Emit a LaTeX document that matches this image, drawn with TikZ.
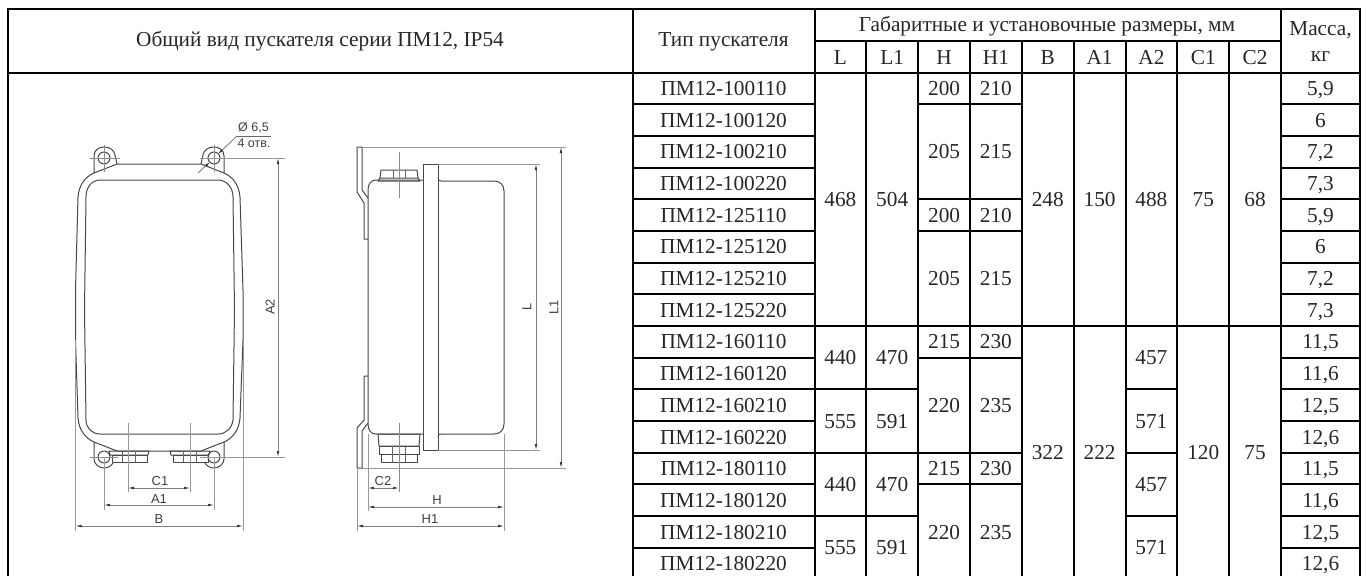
\documentclass[tikz,border=0pt]{standalone}
\usepackage{fontspec}
\setmainfont{Liberation Serif}
\newfontfamily\drawfont{Liberation Sans}
\usetikzlibrary{arrows.meta}
\newcounter{cellno}
\newcommand{\rowy}[1]{72.5+31.68*(#1)}
\newcommand{\cellat}[3]{\stepcounter{cellno}\node[tcell] (cell\arabic{cellno}) at (#1,{\rowy{#2}}) {#3};}
\tikzset{
  tcell/.style={inner sep=0pt,font=\fontsize{21.3}{21.3}\selectfont,text height=14.4pt,text depth=0pt,text=black!85},
  hcell/.style={inner sep=0pt,font=\fontsize{21.3}{21.3}\selectfont,text=black!85},
  gridline/.style={line width=2pt,black},
  outline/.style={line width=1pt,draw=black!72,line join=round},
  thinline/.style={line width=.7pt,draw=black!60},
  centerline/.style={line width=.6pt,draw=black!45},
  dimline/.style={line width=.7pt,draw=black!50,{Latex[length=6pt,width=2.6pt,black!80]}-{Latex[length=6pt,width=2.6pt,black!80]}},
  leadtip/.style={line width=.7pt,draw=black!60,-{Latex[length=5pt,width=2.6pt,black!80]}},
  extline/.style={line width=.7pt,draw=black!40},
  dimtext/.style={inner sep=0pt,font=\drawfont\fontsize{13}{13}\selectfont,text=black!75},
}
\begin{document}
\begin{tikzpicture}[x=1pt,y=-1pt]
\useasboundingbox (0,0) rectangle (1367,576);
% ---------- table grid
\foreach \yy in {9,72.5}{\draw[gridline] (7,\yy) -- (1361,\yy);}
\draw[gridline] (814.5,41) -- (1281,41);
\foreach \xx in {8,633,814.5,1281,1360}{\draw[gridline] (\xx,9) -- (\xx,576);}
\foreach \xx in {866.3,918.2,970,1021.8,1073.7,1125.5,1177.3,1229.2}{\draw[gridline] (\xx,41) -- (\xx,576);}
\foreach \i in {1,...,15}{
  \draw[gridline] (633,{\rowy{\i}}) -- (814.5,{\rowy{\i}});
  \draw[gridline] (1281,{\rowy{\i}}) -- (1360,{\rowy{\i}});
}
\draw[gridline] (814.5,{\rowy{8}}) -- (1281,{\rowy{8}});
\foreach \i in {10,12,14}{
  \draw[gridline] (814.5,{\rowy{\i}}) -- (918.2,{\rowy{\i}});
  \draw[gridline] (1125.5,{\rowy{\i}}) -- (1177.3,{\rowy{\i}});
}
\foreach \i in {1,4,5,9,12,13}{\draw[gridline] (918.2,{\rowy{\i}}) -- (1021.8,{\rowy{\i}});}
% ---------- table headers
\node[hcell] (title) at (320,41.5) {Общий вид пускателя серии ПМ12, IP54};
\node[hcell] (type) at (723.5,42) {Тип пускателя};
\node[hcell] (dims) at (1047,26) {Габаритные и установочные размеры, мм};
\foreach \xx/\tt in {840.4/L,892.2/L1,944.1/H,995.9/H1,1047.8/B,1099.6/A1,1151.4/A2,1203.3/C1,1255.1/C2}{
  \node[tcell] (head\tt) at (\xx,57) {\tt};
}
\node[hcell] (mass) at (1320.5,30) {Масса,};
\node[hcell] (kg) at (1320.5,57) {кг};
% ---------- table body
\foreach \i/\tt in {0/100110,1/100120,2/100210,3/100220,4/125110,5/125120,6/125210,7/125220,8/160110,9/160120,10/160210,11/160220,12/180110,13/180120,14/180210,15/180220}{
  \cellat{723.5}{\i+0.5}{ПМ12-\tt}
}
\foreach \i/\tt in {0/{5,9},1/6,2/{7,2},3/{7,3},4/{5,9},5/6,6/{7,2},7/{7,3},8/{11,5},9/{11,6},10/{12,5},11/{12,6},12/{11,5},13/{11,6},14/{12,5},15/{12,6}}{
  \cellat{1320.5}{\i+0.5}{\tt}
}
\foreach \r/\a/\b in {4/468/504,9/440/470,11/555/591,13/440/470,15/555/591}{
  \cellat{840.4}{\r}{\a}
  \cellat{892.2}{\r}{\b}
}
\foreach \r/\a/\b in {0.5/200/210,2.5/205/215,4.5/200/210,6.5/205/215,8.5/215/230,10.5/220/235,12.5/215/230,14.5/220/235}{
  \cellat{944.1}{\r}{\a}
  \cellat{995.9}{\r}{\b}
}
\foreach \xx/\a/\b in {1047.8/248/322,1099.6/150/222,1203.3/75/120,1255.1/68/75}{
  \cellat{\xx}{4}{\a}
  \cellat{\xx}{12}{\b}
}
\cellat{1151.4}{4}{488}
\foreach \r/\a in {9/457,11/571,13/457,15/571}{\cellat{1151.4}{\r}{\a}}
% ---------- front view
\draw[outline] (117,164) -- (201,164) -- (224,173) .. controls (233,177) and (239,185) .. (240,197) -- (243,290) -- (243,340) -- (240,418) .. controls (239,430) and (233,438) .. (224,442) -- (201,451) -- (117,451) -- (94,442) .. controls (85,438) and (79,430) .. (78,418) -- (75.5,340) -- (75.5,290) -- (78,197) .. controls (79,185) and (85,177) .. (94,173) -- cycle;
\draw[outline] (100,180) -- (218,180) .. controls (226,180) and (233,187) .. (233,197) -- (234.5,310) -- (233,420) .. controls (232,428) and (226,434) .. (218,434) -- (100,434) .. controls (92,434) and (86,428) .. (86,420) -- (84.5,310) -- (86,197) .. controls (86,187) and (92,180) .. (100,180) -- cycle;
% lugs
\draw[outline] (94,173) -- (94,156) .. controls (94,150) and (99,147) .. (104,147) .. controls (110,147) and (114,150) .. (115,155) -- (117,164);
\draw[outline] (224,173) -- (224,156) .. controls (224,150) and (219,147) .. (214,147) .. controls (208,147) and (204,150) .. (203,155) -- (201,164);
\draw[outline] (94,442) -- (94,459) .. controls (94,464) and (99,468) .. (104,468) .. controls (108,468) and (111,466) .. (113,463);
\draw[outline] (224,442) -- (224,459) .. controls (224,464) and (219,468) .. (214,468) .. controls (210,468) and (207,466) .. (205,463);
\foreach \cx/\cy in {104/158,214/158,104/457,214/457}{\draw[outline] (\cx,\cy) circle (6);}
% glands
\foreach \o in {0,61}{
  \draw[outline] (109+\o,451) -- (149+\o,451) -- (148+\o,455) -- (110+\o,455) -- cycle;
  \draw[outline] (112+\o,455) rectangle (147+\o,462);
  \draw[thinline] (122+\o,451) -- (122+\o,462) (135+\o,451) -- (135+\o,462);
}
% centre lines and extensions, front
\draw[centerline] (90,158) -- (120,158) (104,145) -- (104,172);
\draw[centerline] (214,145) -- (214,172);
\draw[centerline] (90,457) -- (118,457);
\coordinate (a2t) at (278,158);
\coordinate (a2b) at (278,457);
\draw[extline] (200,158) -- (285,158);
\draw[extline] (200,457) -- (285,457);
\draw[dimline] (a2t) -- (a2b);
\node[dimtext,rotate=90] (lblA2) at (270,307) {A2};
\coordinate (c1l) at (128,488);
\coordinate (c1r) at (190,488);
\draw[extline] (128,423) -- (128,492) (190,423) -- (190,492);
\draw[dimline] (c1l) -- (c1r);
\node[dimtext] (lblC1) at (160,481) {C1};
\coordinate (a1l) at (104,505);
\coordinate (a1r) at (214,505);
\draw[extline] (104,457) -- (104,510) (214,457) -- (214,510);
\draw[dimline] (a1l) -- (a1r);
\node[dimtext] (lblA1) at (159,499) {A1};
\coordinate (bl) at (75.5,526);
\coordinate (br) at (243,526);
\draw[extline] (75.5,340) -- (75.5,531) (243,340) -- (243,531);
\draw[dimline] (bl) -- (br);
\node[dimtext] (lblB) at (159,519) {B};
% diameter leader
\coordinate (lead1) at (237,136);
\coordinate (lead2) at (271,136);
\coordinate (lead3) at (198,173);
\coordinate (hole1) at (218.2,153.8);
\coordinate (hole2) at (209.8,162.2);
\draw[thinline] (lead1) -- (lead2);
\draw[leadtip] (lead1) -- (hole1);
\draw[leadtip] (lead3) -- (hole2);
\node[dimtext,font=\drawfont\fontsize{12.5}{12.5}\selectfont] (lblD) at (253.5,127.5) {Ø 6,5};
\node[dimtext,font=\drawfont\fontsize{12.5}{12.5}\selectfont] (lblN) at (254,143.5) {4 отв.};
% ---------- side view
\draw[outline] (423,180) -- (376,180) .. controls (371,180) and (368,184) .. (368,190) -- (368,424) .. controls (368,430) and (371,434) .. (376,434) -- (423,434);
\draw[outline] (423,164) rectangle (438,450);
\draw[outline] (438,178) .. controls (438,180) and (439,181) .. (441,181) -- (494,181) .. controls (500,181) and (504,185) .. (504,191) -- (504,424) .. controls (504,430) and (500,434) .. (494,434) -- (441,434) .. controls (439,434) and (438,435) .. (438,437);
% brackets
\draw[outline] (368,239) -- (364,239) -- (364,203) -- (357,192) -- (357,147) -- (362,147) -- (362,190) -- (368,198);
\draw[outline] (368,376) -- (364,376) -- (364,420) -- (357,428) -- (357,468) -- (362,468) -- (362,431) -- (368,423);
% top gland
\draw[outline] (378,181) -- (420,181) -- (418,178) -- (380,178) -- cycle;
\draw[outline] (380,178) -- (381,170) -- (417,170) -- (418,178);
\draw[thinline] (393,170) -- (393,178) (405,170) -- (405,178);
\draw[centerline] (399,152) -- (399,198);
% bottom gland
\draw[outline] (378,434) -- (420,434) -- (419,446) -- (379,446) -- cycle;
\draw[outline] (379,446) rectangle (419,454);
\draw[outline] (381,454) rectangle (417,462);
\draw[thinline] (392,446) -- (392,462) (405,446) -- (405,462);
\draw[centerline] (399,423) -- (399,492);
% side dims
\draw[extline] (362,147) -- (566,147);
\draw[extline] (362,468) -- (566,468);
\draw[extline] (438,164) -- (540,164);
\draw[extline] (438,450) -- (540,450);
\coordinate (lt) at (536,164);
\coordinate (lb) at (536,450);
\draw[dimline] (lt) -- (lb);
\coordinate (l1t) at (561,147);
\coordinate (l1b) at (561,468);
\draw[dimline] (l1t) -- (l1b);
\node[dimtext,rotate=90] (lblL) at (527,307) {L};
\node[dimtext,rotate=90] (lblL1) at (554,307) {L1};
\coordinate (c2l) at (368,488);
\coordinate (c2r) at (399,488);
\draw[dimline] (c2l) -- (c2r);
\node[dimtext] (lblC2) at (383,481) {C2};
\coordinate (hl) at (368,507);
\coordinate (hr) at (504,507);
\draw[extline] (368,434) -- (368,511);
\draw[extline] (504,434) -- (504,531);
\draw[extline] (357,468) -- (357,531);
\draw[dimline] (hl) -- (hr);
\node[dimtext] (lblH) at (437,500) {H};
\coordinate (h1l) at (357,526);
\coordinate (h1r) at (504,526);
\draw[dimline] (h1l) -- (h1r);
\node[dimtext] (lblH1) at (430,519.5) {H1};
\end{tikzpicture}
\end{document}
